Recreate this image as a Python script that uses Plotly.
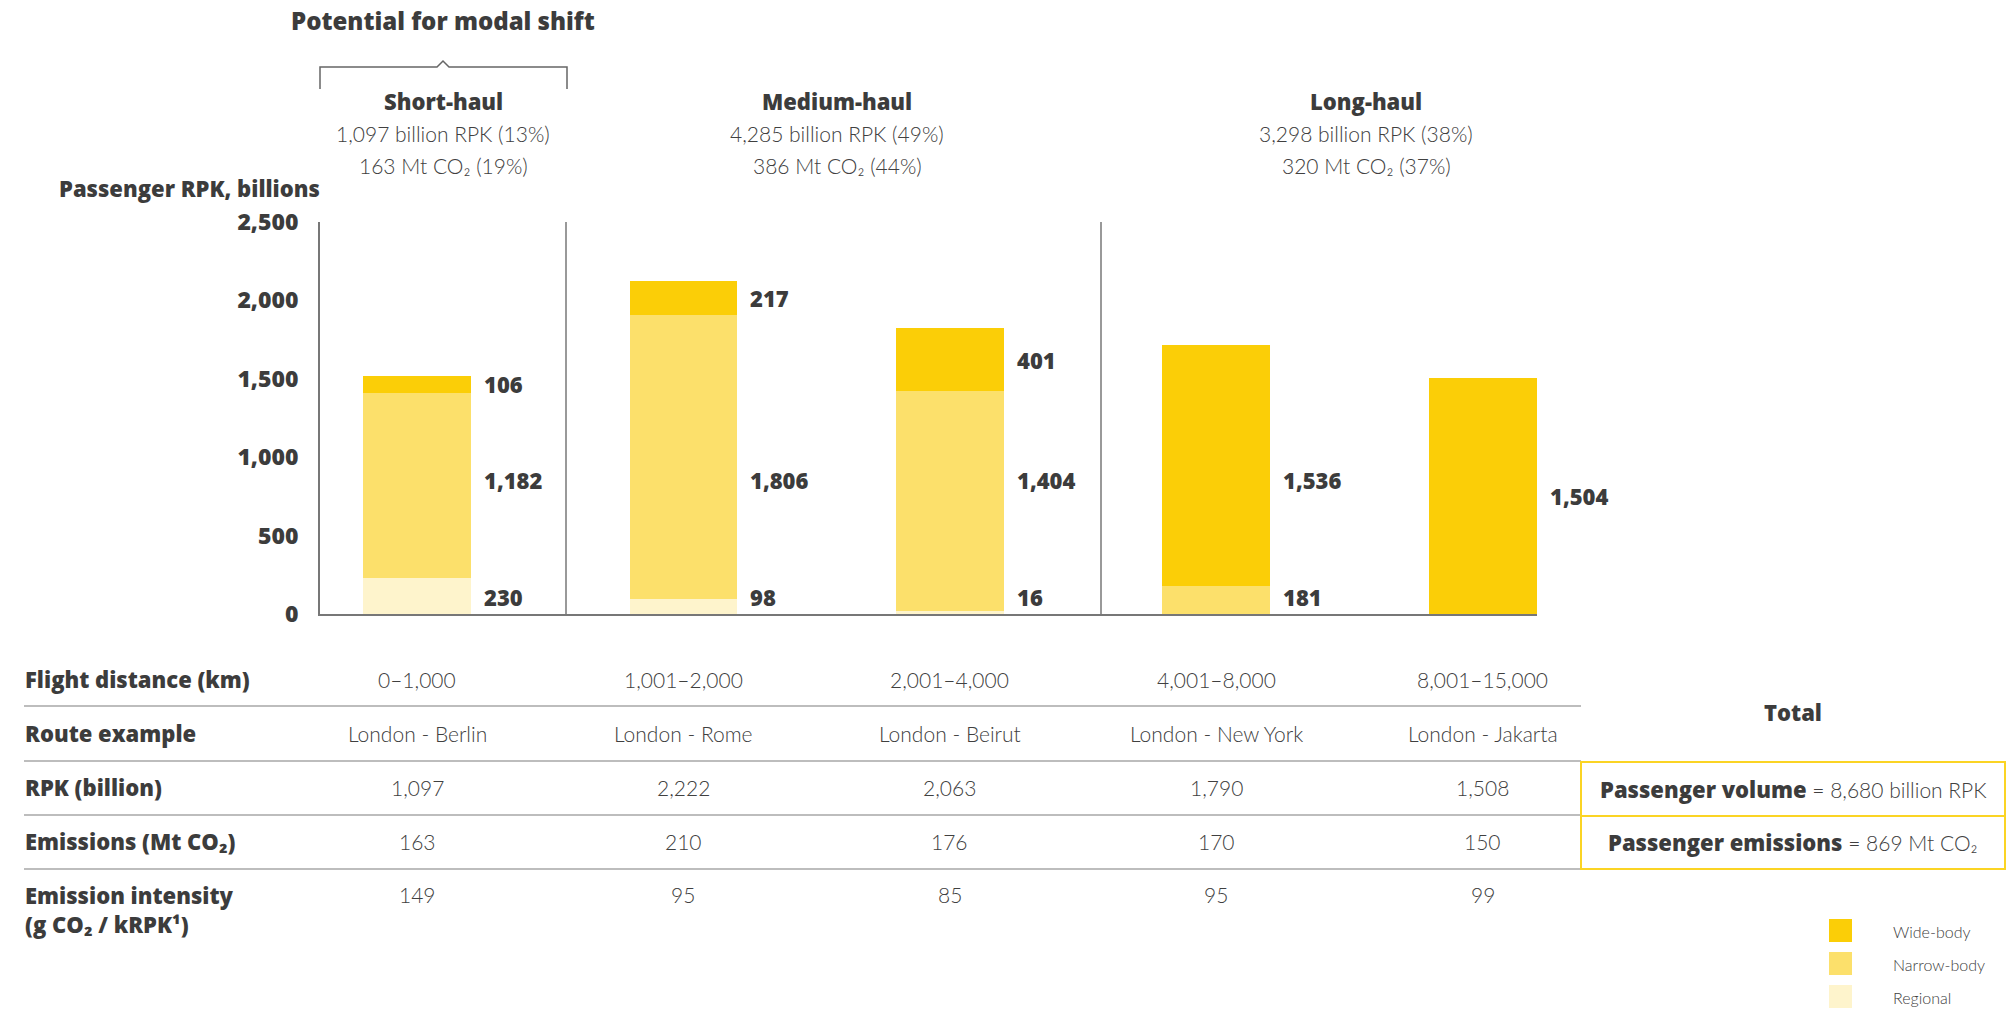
import plotly.graph_objects as go

W, H = 2013, 1009

# ---------------- data ----------------
distance_bands = ["0–1,000", "1,001–2,000", "2,001–4,000", "4,001–8,000", "8,001–15,000"]
route_examples = ["London - Berlin", "London - Rome", "London - Beirut",
                  "London - New York", "London - Jakarta"]

regional = [230, 98, 16, None, None]
narrow_body = [1182, 1806, 1404, 181, None]
wide_body = [106, 217, 401, 1536, 1504]

rpk_billion = [1097, 2222, 2063, 1790, 1508]
emissions_mt = [163, 210, 176, 170, 150]
intensity_g = [149, 95, 85, 95, 99]

haul_names = ["Short-haul", "Medium-haul", "Long-haul"]
haul_rpk = [1097, 4285, 3298]
haul_rpk_share = [13, 49, 38]
haul_co2 = [163, 386, 320]
haul_co2_share = [19, 44, 37]

total_rpk = 8680
total_co2 = 869

y_ticks = [0, 500, 1000, 1500, 2000, 2500]

# ---------------- styling ----------------
BOLD_FONT = "Open Sans"
LIGHT_FONT = "Lato"
DARK = "#3c3c3c"
LIGHT = "#404040"
AXIS_GREY = "#777777"
RULE_GREY = "#bdbdbd"
BOX_YELLOW = "#fbd424"
C_WIDE, C_NARROW, C_REGIONAL = "#fbce07", "#fce06b", "#fef4cc"

series = [("Regional", regional, C_REGIONAL),
          ("Narrow-body", narrow_body, C_NARROW),
          ("Wide-body", wide_body, C_WIDE)]

# plot-area geometry in page pixels
X_LEFT, X_RIGHT = 320, 1537
Y_ZERO, Y_TOP = 614, 222
X_MIN, X_MAX = -0.364, 4.203
BAR_W = 0.405
BOTTOM_ROW, MID_ROW = 107, 855   # shared rows for stacked value labels


def px(x):
    return x / W


def py(y):
    return 1 - y / H


def fmt(v):
    return f"{v:,}"


def bold(size):
    return dict(family=BOLD_FONT, size=size, color=DARK, weight=800)


def light(size, color=LIGHT):
    return dict(family=LIGHT_FONT, size=size, color=color, weight=300)


def heavy_span(text, size):
    return (f'<span style="font-family:{BOLD_FONT};font-weight:800;'
            f'font-size:{size}px;fill:{DARK}">{text}</span>')


idx = list(range(len(distance_bands)))

fig = go.Figure()
for name, vals, col in series:
    fig.add_trace(go.Bar(x=idx, y=vals, name=name, width=BAR_W,
                         marker=dict(color=col, line=dict(width=0)),
                         showlegend=False, hoverinfo="skip"))

annotations = []
shapes = []

# value labels beside each stacked bar
for i in idx:
    segs = [vals[i] for _, vals, _ in series if vals[i]]
    base = 0
    for k, v in enumerate(segs):
        lo, hi = base, base + v
        base = hi
        if len(segs) > 1 and lo <= MID_ROW <= hi:
            ly = MID_ROW
        elif len(segs) > 1 and k == 0:
            ly = BOTTOM_ROW
        else:
            ly = (lo + hi) / 2
        annotations.append(dict(x=i + BAR_W / 2, y=ly, xref="x", yref="y",
                                text=fmt(v), showarrow=False, xanchor="left",
                                yanchor="middle", xshift=11, font=bold(22)))

# section dividers inside the plot
for xd in (566, 1101):
    shapes.append(dict(type="line", xref="paper", yref="paper",
                       x0=px(xd), x1=px(xd), y0=py(Y_ZERO), y1=py(Y_TOP),
                       line=dict(color=AXIS_GREY, width=1.5)))

# bracket over short-haul
bx0, bx1, bcx, by, bdrop = 320, 567, 443, 67, 89
path = (f"M {px(bx0)},{py(bdrop)} L {px(bx0)},{py(by)} L {px(bcx - 6)},{py(by)} "
        f"L {px(bcx)},{py(by - 6)} L {px(bcx + 6)},{py(by)} L {px(bx1)},{py(by)} "
        f"L {px(bx1)},{py(bdrop)}")
shapes.append(dict(type="path", path=path, xref="paper", yref="paper",
                   line=dict(color="#666666", width=1.5)))
annotations.append(dict(x=px(bcx), y=py(21), xref="paper", yref="paper",
                        text="Potential for modal shift", showarrow=False,
                        font=bold(24), xanchor="center", yanchor="middle"))

# haul headers
haul_x = [443, 837, 1366]
for name, hx, r, rs, c, cs in zip(haul_names, haul_x, haul_rpk, haul_rpk_share,
                                  haul_co2, haul_co2_share):
    annotations.append(dict(x=px(hx), y=py(101), xref="paper", yref="paper",
                            text=name, showarrow=False, font=bold(22),
                            xanchor="center", yanchor="middle"))
    annotations.append(dict(x=px(hx), y=py(133), xref="paper", yref="paper",
                            text=f"{fmt(r)} billion RPK ({rs}%)", showarrow=False,
                            font=light(21), xanchor="center", yanchor="middle"))
    annotations.append(dict(x=px(hx), y=py(165), xref="paper", yref="paper",
                            text=f"{c} Mt CO₂ ({cs}%)", showarrow=False,
                            font=light(21), xanchor="center", yanchor="middle"))

annotations.append(dict(x=px(57), y=py(188), xref="paper", yref="paper",
                        text="Passenger RPK, billions", showarrow=False,
                        font=bold(22), xanchor="left", yanchor="middle"))

# table beneath the chart
row_y = [679, 733, 787, 841, 894]
row_labels = ["Flight distance (km)", "Route example", "RPK (billion)",
              "Emissions (Mt CO₂)", "Emission intensity<br>(g CO₂ / kRPK¹)"]
row_values = [distance_bands, route_examples,
              [fmt(v) for v in rpk_billion],
              [str(v) for v in emissions_mt],
              [str(v) for v in intensity_g]]
for ry, lab, vals in zip(row_y, row_labels, row_values):
    two_line = "<br>" in lab
    annotations.append(dict(x=px(23), y=py(ry - 16) if two_line else py(ry),
                            xref="paper", yref="paper", text=lab, showarrow=False,
                            font=bold(22), xanchor="left", align="left",
                            yanchor="top" if two_line else "middle"))
    for i, v in zip(idx, vals):
        annotations.append(dict(x=i, y=py(ry), xref="x", yref="paper", text=v,
                                showarrow=False, font=light(21),
                                xanchor="center", yanchor="middle"))

for sy in (706, 761, 815, 869):
    shapes.append(dict(type="line", xref="paper", yref="paper",
                       x0=px(24), x1=px(1581), y0=py(sy), y1=py(sy),
                       line=dict(color=RULE_GREY, width=2)))

# totals box
tx0, tx1, tcx = 1581, 2005, 1793
shapes.append(dict(type="rect", xref="paper", yref="paper",
                   x0=px(tx0), x1=px(tx1), y0=py(869), y1=py(762),
                   line=dict(color=BOX_YELLOW, width=2)))
shapes.append(dict(type="line", xref="paper", yref="paper",
                   x0=px(tx0), x1=px(tx1), y0=py(816), y1=py(816),
                   line=dict(color=BOX_YELLOW, width=2)))
annotations.append(dict(x=px(tcx), y=py(712), xref="paper", yref="paper",
                        text="Total", showarrow=False, font=bold(22),
                        xanchor="center", yanchor="middle"))
annotations.append(dict(x=px(tcx), y=py(789), xref="paper", yref="paper",
                        text=f"{heavy_span('Passenger volume', 22)} = {fmt(total_rpk)} billion RPK",
                        showarrow=False, font=light(21), xanchor="center",
                        yanchor="middle"))
annotations.append(dict(x=px(tcx), y=py(842), xref="paper", yref="paper",
                        text=f"{heavy_span('Passenger emissions', 22)} = {total_co2} Mt CO₂",
                        showarrow=False, font=light(21), xanchor="center",
                        yanchor="middle"))

# legend, top to bottom: wide, narrow, regional
for k, (name, _, col) in enumerate(reversed(series)):
    top = 919 + k * 33
    shapes.append(dict(type="rect", xref="paper", yref="paper",
                       x0=px(1829), x1=px(1852), y0=py(top + 23), y1=py(top),
                       fillcolor=col, line=dict(width=0)))
    annotations.append(dict(x=px(1891), y=py(top + 12), xref="paper", yref="paper",
                            text=name, showarrow=False, font=light(16),
                            xanchor="left", yanchor="middle"))

fig.update_layout(
    width=W, height=H,
    margin=dict(l=0, r=0, t=0, b=0, pad=0, autoexpand=False),
    paper_bgcolor="white", plot_bgcolor="white",
    barmode="stack", bargap=0, showlegend=False,
    font=dict(family=LIGHT_FONT, color=DARK),
    annotations=annotations, shapes=shapes,
    xaxis=dict(domain=[px(X_LEFT), px(X_RIGHT)], range=[X_MIN, X_MAX],
               showgrid=False, zeroline=False, showticklabels=False, ticks="",
               automargin=False,
               showline=True, linecolor=AXIS_GREY, linewidth=2, fixedrange=True),
    yaxis=dict(domain=[py(Y_ZERO), py(Y_TOP)], range=[0, 2500],
               tickvals=y_ticks, ticktext=[fmt(v) for v in y_ticks],
               tickfont=bold(23), ticks="", ticklabelstandoff=15,
               automargin=False, showgrid=False, zeroline=False,
               showline=True, linecolor=AXIS_GREY, linewidth=2, fixedrange=True),
)

fig.write_html("out.html", config={"displayModeBar": False})
